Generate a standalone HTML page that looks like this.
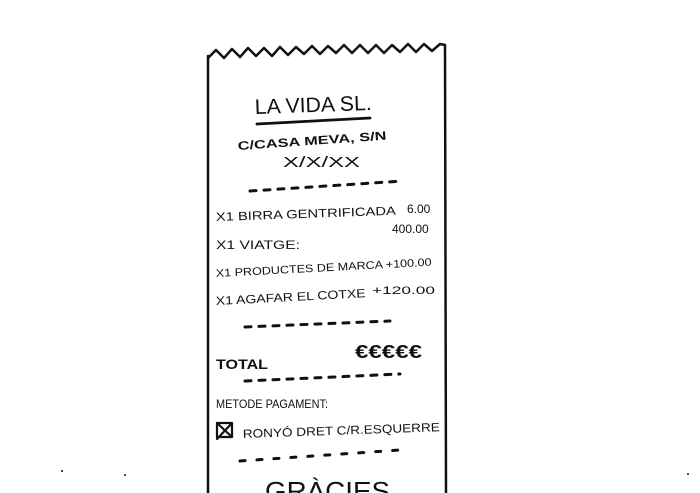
<!DOCTYPE html>
<html><head><meta charset="utf-8"><style>
html,body{margin:0;padding:0;background:#fff;}
svg{display:block;}
text{font-family:"Liberation Sans",sans-serif;fill:#111;}
</style></head><body>
<svg width="700" height="493" viewBox="0 0 700 493" xmlns="http://www.w3.org/2000/svg">
<g stroke="#111" stroke-width="2.5" fill="none" stroke-linecap="round" stroke-linejoin="round">
<path d="M208,493 L208,56"/>
<path d="M446,493 L445,45"/>
<path d="M208,58 L216,50 L224,58 L232,49 L240,57 L248,48 L256,56 L264,48 L272,56 L280,47 L288,55 L296,47 L304,54 L312,46 L320,54 L328,46 L336,53 L344,45 L352,53 L360,45 L368,53 L376,45 L384,53 L392,45 L400,52 L408,44 L416,52 L424,44 L432,51 L440,44 L445,45"/>
<path d="M257,124 L370,118" stroke-width="2.8"/>
<path d="M250,191 L403,181" stroke-dasharray="6,8" stroke-width="3"/>
<path d="M245,327 L390,321" stroke-dasharray="6,8" stroke-width="3"/>
<path d="M245,381 L400,374" stroke-dasharray="6,8" stroke-width="3"/>
<path d="M240,461 L400,450" stroke-dasharray="5,12" stroke-width="3"/>
<rect x="217" y="423" width="15" height="14" stroke-width="2.2"/>
<path d="M217,423 L232,437 M232,423 L217,439" stroke-width="2.2"/>
</g>
<g fill="#111"><circle cx="62" cy="471" r="1"/><circle cx="125" cy="475" r="1"/><circle cx="688" cy="474" r="1"/></g>
<text x="255" y="114" font-size="21" textLength="117" lengthAdjust="spacingAndGlyphs" transform="rotate(-2 255 114)">LA VIDA SL.</text>
<text x="238" y="150" font-size="12" font-weight="bold" textLength="149" lengthAdjust="spacingAndGlyphs" transform="rotate(-4 238 150)">C/CASA MEVA, S/N</text>
<text x="283" y="167" font-size="15" textLength="77" lengthAdjust="spacingAndGlyphs">X/X/XX</text>
<text x="216" y="221" font-size="12" textLength="180" lengthAdjust="spacingAndGlyphs" transform="rotate(-2 216 221)">X1 BIRRA GENTRIFICADA</text>
<text x="407" y="213" font-size="12">6.00</text>
<text x="392" y="233" font-size="12">400.00</text>
<text x="216" y="249" font-size="12" textLength="84" lengthAdjust="spacingAndGlyphs">X1 VIATGE:</text>
<text x="216" y="277" font-size="11" textLength="216" lengthAdjust="spacingAndGlyphs" transform="rotate(-3 216 277)">X1 PRODUCTES DE MARCA +100.00</text>
<text x="216" y="305" font-size="12" textLength="150" lengthAdjust="spacingAndGlyphs" transform="rotate(-3 216 305)">X1 AGAFAR EL COTXE</text>
<text x="372" y="294" font-size="11" textLength="63" lengthAdjust="spacingAndGlyphs">+120.00</text>
<text x="216" y="369" font-size="14" font-weight="bold" textLength="52" lengthAdjust="spacingAndGlyphs">TOTAL</text>
<text x="355" y="358" font-size="18" font-weight="bold" textLength="67" lengthAdjust="spacingAndGlyphs">€€€€€</text>
<text x="216" y="408" font-size="12" textLength="112" lengthAdjust="spacingAndGlyphs">METODE PAGAMENT:</text>
<text x="243" y="438" font-size="12" textLength="197" lengthAdjust="spacingAndGlyphs" transform="rotate(-2 243 438)">RONYÓ DRET C/R.ESQUERRE</text>
<text x="265" y="500" font-size="26" textLength="125" lengthAdjust="spacingAndGlyphs">GRÀCIES</text>
</svg>
</body></html>
